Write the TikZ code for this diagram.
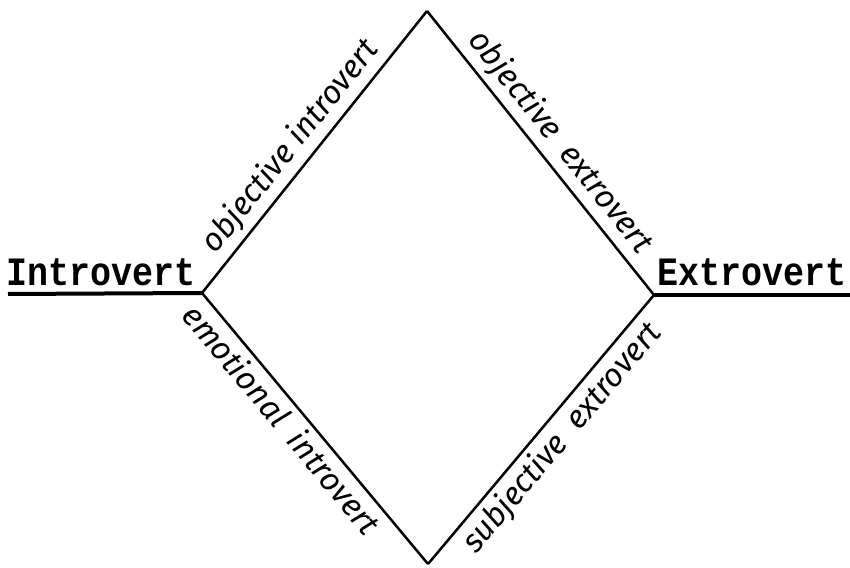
\documentclass[tikz,border=0pt]{standalone}
\usepackage{fontspec}
\usepackage{tikz}
\newfontfamily\typefont{Liberation Mono}
\newfontfamily\handfont{Fira Sans}
\begin{document}
\begin{tikzpicture}[
    x=0.5pt, y=0.5pt,
    edge/.style={line width=1.25pt, line join=miter},
    bar/.style={line width=2pt},
    pole/.style={font=\typefont\bfseries\fontsize{17.5}{17.5}\selectfont, inner sep=0pt},
    hand/.style={font=\handfont\itshape\fontsize{16}{16}\selectfont, sloped, inner sep=2.5pt},
  ]
  \useasboundingbox (0,0) rectangle (850,567);
  % corners of the diamond
  \coordinate (top)    at (427,556);
  \coordinate (left)   at (202,274);
  \coordinate (right)  at (654,272);
  \coordinate (bottom) at (428,3);
  \coordinate (introend) at (8,273);
  \coordinate (extroend) at (850,272);
  % poles
  \node[pole, anchor=base west] (intro) at (6,281) {\scalebox{1}[1.15]{Introvert}};
  \node[pole, anchor=base west] (extro) at (657,281) {\scalebox{1}[1.15]{Extrovert}};
  \draw[bar] (introend) -- (left);
  \draw[bar] (right) -- (extroend);
  % diamond
  \draw[edge] (left) -- (top)
      node[hand, pos=0.47, above] {objective introvert};
  \draw[edge] (top) -- (right)
      node[hand, pos=0.51, above] {objective\ \ extrovert};
  \draw[edge] (left) -- (bottom)
      node[hand, pos=0.42, below] {emotional\ \ introvert};
  \draw[edge] (bottom) -- (right)
      node[hand, pos=0.52, below] {subjective\ \ extrovert};
\end{tikzpicture}
\end{document}
